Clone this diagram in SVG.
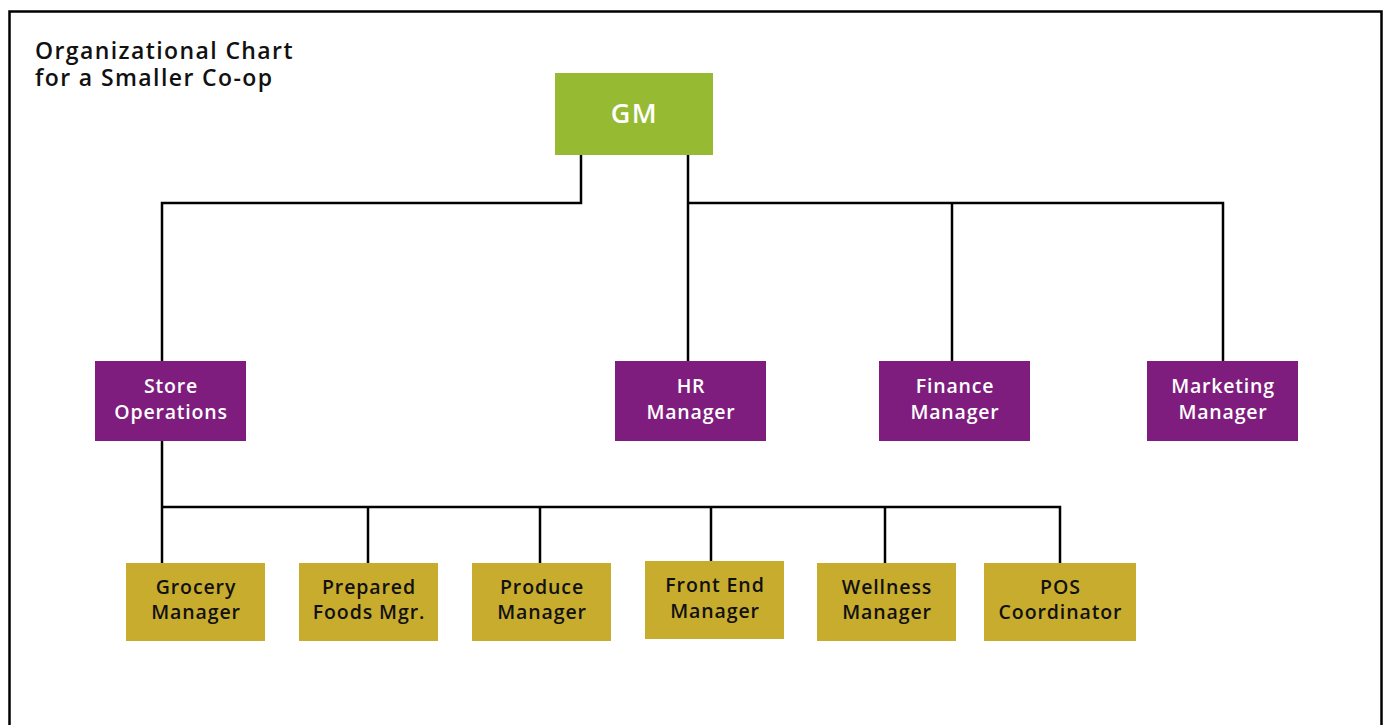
<svg xmlns="http://www.w3.org/2000/svg" width="1385" height="725" viewBox="0 0 1385 725">
<style>
.t{font-family:"Open Sans","Noto Sans",sans-serif;font-weight:600;text-anchor:middle}
.w{fill:#fff;font-size:19.5px;letter-spacing:0.8px}
.k{fill:#111;font-size:19.5px;letter-spacing:0.9px}
.h{font-family:"Open Sans","Noto Sans",sans-serif;font-weight:600;font-size:23px;letter-spacing:1.4px;fill:#111}
.c{fill:none;stroke:#000;stroke-width:2.5}
.g{fill:#97BA33}
.p{fill:#7E1D7D}
.y{fill:#C8AC2E}
</style>
<rect x="0" y="0" width="1385" height="725" fill="#fff"/>
<path d="M9.5 740 V11.5 H1381.5 V740" fill="none" stroke="#000" stroke-width="2.5"/>
<text class="h" x="35" y="59">Organizational Chart</text>
<text class="h" x="35" y="86">for a Smaller Co-op</text>
<g id="connectors">
<path class="c" d="M581 155 V203 H162 V507"/>
<path class="c" d="M688 155 V361"/>
<path class="c" d="M688 203 H1223 V361"/>
<path class="c" d="M952 203 V361"/>
<path class="c" d="M162 507 H1060 V563"/>
<path class="c" d="M162 507 V563"/>
<path class="c" d="M368 507 V563"/>
<path class="c" d="M540 507 V563"/>
<path class="c" d="M711 507 V561"/>
<path class="c" d="M885 507 V563"/>
</g>
<g id="gm"><rect class="g" x="555" y="73" width="158" height="82"/><text class="t" x="634.5" y="123" fill="#fff" font-size="27" letter-spacing="1.5">GM</text></g>
<g id="store-operations"><rect class="p" x="95" y="361" width="151" height="80"/><text class="t w" x="171" y="393">Store</text><text class="t w" x="171" y="419">Operations</text></g>
<g id="hr-manager"><rect class="p" x="615" y="361" width="151" height="80"/><text class="t w" x="691" y="393">HR</text><text class="t w" x="691" y="419">Manager</text></g>
<g id="finance-manager"><rect class="p" x="879" y="361" width="151" height="80"/><text class="t w" x="955" y="393">Finance</text><text class="t w" x="955" y="419">Manager</text></g>
<g id="marketing-manager"><rect class="p" x="1147" y="361" width="151" height="80"/><text class="t w" x="1223" y="393">Marketing</text><text class="t w" x="1223" y="419">Manager</text></g>
<g id="grocery-manager"><rect class="y" x="126" y="563" width="139" height="78"/><text class="t k" x="196" y="594">Grocery</text><text class="t k" x="196" y="619">Manager</text></g>
<g id="prepared-foods"><rect class="y" x="299" y="563" width="139" height="78"/><text class="t k" x="369" y="594">Prepared</text><text class="t k" x="369" y="619">Foods Mgr.</text></g>
<g id="produce-manager"><rect class="y" x="472" y="563" width="139" height="78"/><text class="t k" x="542" y="594">Produce</text><text class="t k" x="542" y="619">Manager</text></g>
<g id="front-end-manager"><rect class="y" x="645" y="561" width="139" height="78"/><text class="t k" x="715" y="592">Front End</text><text class="t k" x="715" y="618">Manager</text></g>
<g id="wellness-manager"><rect class="y" x="817" y="563" width="139" height="78"/><text class="t k" x="887" y="594">Wellness</text><text class="t k" x="887" y="619">Manager</text></g>
<g id="pos-coordinator"><rect class="y" x="984" y="563" width="152" height="78"/><text class="t k" x="1060.5" y="594">POS</text><text class="t k" x="1060.5" y="619">Coordinator</text></g>
</svg>
